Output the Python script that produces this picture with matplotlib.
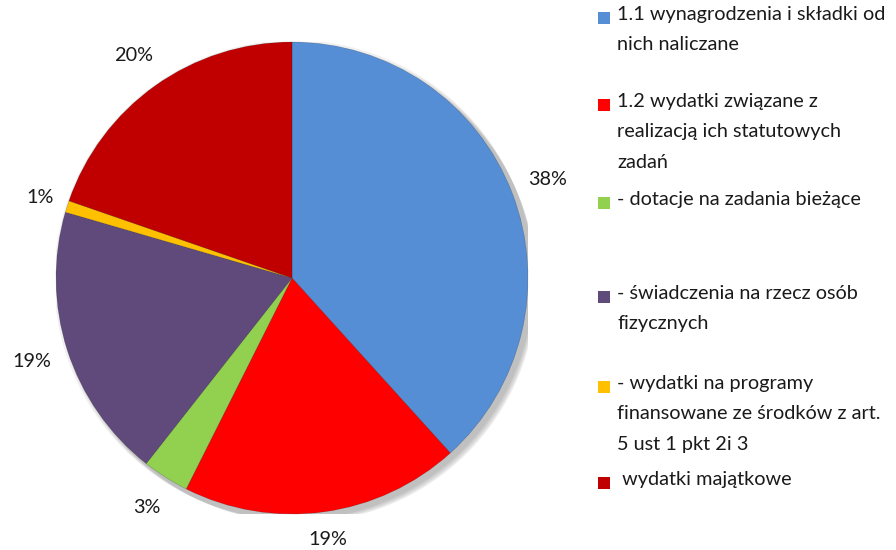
import matplotlib
matplotlib.use("Agg")
import matplotlib.pyplot as plt
from matplotlib.patches import Rectangle, Circle

categories = [
    "1.1 wynagrodzenia i składki od\nnich naliczane",
    "1.2 wydatki związane z\nrealizacją ich statutowych\nzadań",
    "- dotacje na zadania bieżące",
    "- świadczenia na rzecz osób\nfizycznych",
    "- wydatki na programy\nfinansowane ze środków z art.\n5 ust 1 pkt 2i 3",
    " wydatki majątkowe",
]
values = [38.3, 19.1, 3.2, 18.9, 0.8, 19.7]
colors = ["#558ED5", "#FF0000", "#92D050", "#604A7B", "#FFC000", "#C00000"]
label_dist = [1.16, 1.12, 1.15, 1.16, 1.12, 1.16]

plt.rcParams['font.family'] = ['Lato', 'DejaVu Sans']

W, H = 896, 550
fig = plt.figure(figsize=(W / 100, H / 100), dpi=100)
fig.patch.set_facecolor("white")

cx, cy, R = 292, 278, 236
ax = fig.add_axes([(cx - R) / W, (H - cy - R) / H, 2 * R / W, 2 * R / H])

# soft shadow
for i, a in enumerate([0.06, 0.06, 0.07, 0.08]):
    off = 0.008 * (i + 1)
    ax.add_patch(Circle((off, -off), 1.0 + 0.004 * (4 - i), facecolor="#000000",
                        alpha=a, edgecolor="none", zorder=0))

wedges, texts, autotexts = ax.pie(
    values, colors=colors, startangle=90, counterclock=False, radius=1.0,
    autopct=lambda p: f"{p:.0f}%", pctdistance=1.15,
    wedgeprops=dict(linewidth=0.4, edgecolor="#00000040"),
    textprops=dict(fontsize=14.3, color="#1a1a1a"))
for w in wedges:
    w.set_zorder(2)
for t, f in zip(autotexts, label_dist):
    x, y = t.get_position()
    t.set_position((x * f / 1.15, y * f / 1.15))
    t.set_clip_on(False)

ax.set_xlim(-1, 1)
ax.set_ylim(-1, 1)
ax.set_aspect("equal")
ax.axis("off")

# legend
slot_y = [18, 105, 203, 297, 387, 483]
for lab, col, y in zip(categories, colors, slot_y):
    fig.patches.append(Rectangle(((598) / W, (H - y - 6) / H), 12 / W, 12 / H,
                                 transform=fig.transFigure, facecolor=col,
                                 edgecolor="none"))
    fig.text(617 / W, (H - y + 12) / H, lab, fontsize=14.3, color="#1a1a1a",
             va="top", ha="left", linespacing=1.95)

fig.savefig("out.png", dpi=100, facecolor="white")
